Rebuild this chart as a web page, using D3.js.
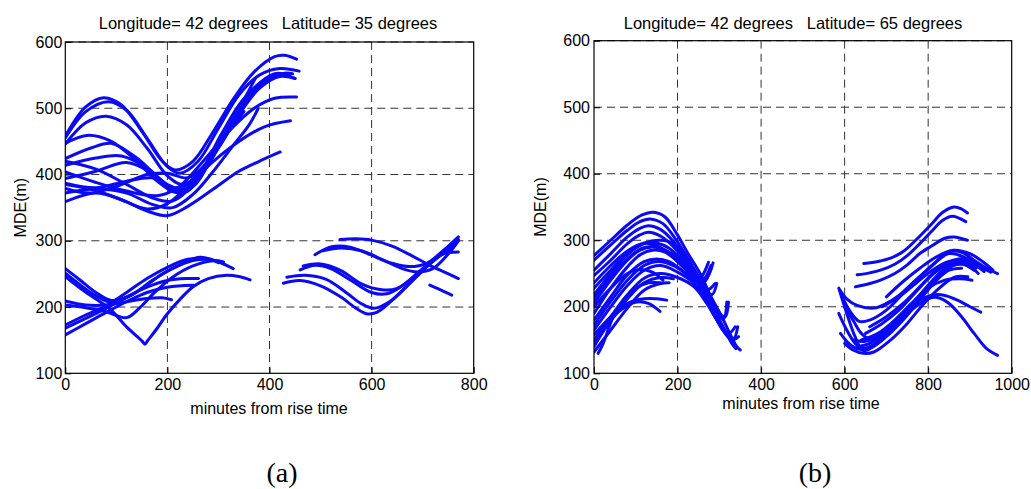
<!DOCTYPE html>
<html>
<head>
<meta charset="utf-8">
<script src="https://cdn.jsdelivr.net/npm/d3@7"></script>
<style>
  body { margin: 0; background: #fff; }
  text { font-family: "Liberation Sans", Arial, sans-serif; fill: #000; }
</style>
</head>
<body>
<div class="graph"></div>
<script>
// tick values
var xTicksA = [0, 200, 400, 600, 800];
var xTicksB = [0, 200, 400, 600, 800, 1000];
var yTicks = [100, 200, 300, 400, 500, 600];

var titleA = 'Longitude= 42 degrees   Latitude= 35 degrees';
var titleB = 'Longitude= 42 degrees   Latitude= 65 degrees';

// panel (a): [minutes, MDE]
var aUpper = [
  [[0,458],[40,502],[75,516],[110,505],[150,465],[190,420],[215,407],[250,420],[290,465],[330,515],[370,555],[410,578],[430,580],[453,574]],
  [[0,455],[40,495],[85,510],[120,497],[160,455],[200,412],[225,402],[260,420],[300,470],[340,520],[380,550],[420,560],[458,556]],
  [[0,446],[40,478],[80,488],[120,475],[160,440],[200,398],[230,385],[265,405],[305,460],[345,510],[385,540],[420,550],[450,545]],
  [[0,447],[42,459],[90,450],[140,420],[180,390],[215,373],[240,375],[275,410],[315,465],[355,515],[395,543],[430,553],[445,552]],
  [[0,424],[50,440],[90,447],[140,425],[190,390],[225,373],[255,385],[290,430],[330,485],[370,530],[410,552],[440,550]],
  [[0,414],[60,425],[110,428],[160,410],[200,385],[230,378],[265,400],[305,450],[345,500],[385,535],[420,550]],
  [[0,394],[60,405],[120,418],[170,402],[210,378],[240,377],[280,415],[320,470],[355,520],[372,545]],
  [[0,387],[60,380],[120,390],[170,395],[215,380],[250,390],[290,430],[330,480],[362,520]],
  [[0,379],[50,372],[110,385],[160,400],[200,402],[240,395],[280,420],[320,465],[350,495]],
  [[0,372],[60,378],[120,372],[170,355],[210,350],[250,370],[290,405],[330,445],[360,475],[378,500]],
  [[0,420],[60,408],[120,385],[170,365],[210,360],[250,385],[300,440],[340,490],[380,530],[420,548],[450,545]],
  [[0,359],[60,372],[110,362],[160,345],[200,338],[240,352],[290,378],[340,405],[380,420],[421,434]],
  [[0,385],[50,378],[100,365],[160,348],[200,356],[240,383],[290,420],[340,450],[390,472],[441,481]],
  [[0,404],[60,388],[120,375],[180,368],[220,380],[270,420],[320,465],[370,500],[410,515],[453,517]]
];

var aLowerLeft = [
  [[0,258],[30,240],[60,222],[90,210],[120,215],[150,228],[190,250],[230,266],[264,275],[300,268],[329,258]],
  [[0,251],[30,233],[60,217],[90,207],[130,218],[170,240],[210,258],[250,270],[280,272],[300,267]],
  [[0,246],[30,228],[60,212],[88,197],[120,170],[150,149],[156,144],[162,150],[180,168],[198,188],[225,212],[251,231],[280,243],[316,248],[340,246],[362,241]],
  [[0,173],[40,188],[80,202],[120,222],[160,243],[200,260],[240,272],[270,273]],
  [[0,168],[40,183],[80,198],[120,215],[160,230],[200,240],[240,243],[261,243]],
  [[0,158],[40,175],[80,192],[120,208],[160,222],[200,230],[251,233]],
  [[0,209],[40,203],[80,203],[120,208],[160,213],[190,214],[208,211]],
  [[0,203],[40,199],[80,193],[120,184],[146,199],[175,222],[210,245],[250,262],[290,270],[310,268]]
];

var aLowerRight = [
  [[538,302],[570,303],[600,301],[640,292],[675,279],[714,263],[745,252],[770,243]],
  [[489,279],[522,291],[560,290],[597,279],[640,266],[675,261],[708,266],[740,285],[770,306]],
  [[505,285],[540,289],[580,285],[620,272],[660,258],[690,253],[720,258],[750,280],[770,300]],
  [[714,233],[735,226],[757,218]],
  [[427,236],[460,240],[500,232],[540,215],[570,198],[590,190],[610,192],[640,210],[680,240],[720,270],[770,302]],
  [[434,245],[470,248],[510,242],[550,222],[580,205],[605,198],[635,208],[670,232],[710,262],[745,285],[765,297]],
  [[460,256],[490,263],[520,258],[560,240],[600,222],[630,220],[660,232],[700,258],[740,280],[770,283]],
  [[466,262],[500,265],[540,255],[580,235],[620,226],[650,228],[690,250],[730,275],[763,293]]
];

// panel (b)
var bLeft = [
  [[0,277],[40,300],[80,323],[115,338],[142,342],[170,335],[198,310],[225,280],[254,250],[280,215],[302,190],[325,160],[342,140],[350,135]],
  [[0,270],[40,293],[80,315],[110,328],[134,332],[165,325],[195,302],[225,272],[254,240],[280,205],[305,175],[330,145],[340,137]],
  [[0,255],[40,280],[80,305],[110,318],[130,322],[160,316],[190,298],[220,270],[250,235],[280,200],[305,168],[330,150],[346,155]],
  [[0,247],[40,270],[80,295],[110,308],[130,312],[160,306],[195,287],[225,262],[255,228],[285,190],[310,165],[334,152],[344,170]],
  [[0,228],[40,255],[80,280],[120,295],[158,300],[190,295],[220,275],[250,245],[275,215],[300,190],[314,185],[322,207]],
  [[0,218],[40,250],[80,278],[118,295],[150,292],[180,280],[210,262],[240,245],[260,240],[280,262]],
  [[0,205],[40,240],[80,270],[110,285],[140,290],[170,285],[200,272],[230,255],[252,242],[274,267]],
  [[0,190],[40,228],[80,260],[110,278],[140,285],[170,282],[200,268],[230,250],[260,230],[282,218],[294,235]],
  [[0,180],[40,215],[80,248],[120,268],[150,272],[180,268],[210,255],[240,240],[262,236],[282,260]],
  [[0,165],[40,200],[80,232],[120,255],[160,262],[200,252],[240,235],[270,210],[295,190],[310,182],[318,207]],
  [[0,150],[40,185],[80,218],[120,243],[160,250],[200,244],[240,230],[270,205],[300,175],[322,160],[338,170]],
  [[0,132],[40,165],[80,198],[120,225],[160,235],[180,236]],
  [[0,140],[30,170],[60,193],[102,207],[130,205],[158,193]],
  [[0,158],[40,185],[80,205],[120,212],[150,212],[174,210]],
  [[0,200],[40,228],[80,250],[110,256],[140,252],[165,240]],
  [[10,130],[22,145],[46,185],[70,210],[100,228],[130,236],[160,236]],
  [[0,236],[40,262],[80,284],[120,296],[150,296],[180,288],[210,270],[240,248],[265,240],[285,266]],
  [[0,212],[40,245],[80,272],[115,288],[150,290],[185,280],[215,262],[245,240],[270,225],[290,235]],
  [[0,172],[40,208],[80,240],[120,262],[155,268],[190,262],[220,250],[250,235],[270,228]],
  [[0,145],[40,180],[80,212],[120,236],[160,244],[190,242]]
];

var bRight = [
  [[646,265],[680,268],[710,273],[740,283],[770,300],[806,323],[835,342],[862,350],[880,347],[894,341]],
  [[630,248],[660,251],[686,255],[720,264],[750,277],[780,295],[806,312],[835,330],[858,336],[890,328]],
  [[626,230],[660,235],[686,240],[720,250],[750,263],[780,280],[810,292],[840,303],[862,305],[894,300]],
  [[588,226],[605,212],[630,202],[670,198],[700,205],[730,217],[770,240],[810,262],[846,282],[880,282],[910,270],[940,258],[966,250]],
  [[590,222],[610,196],[635,178],[660,180],[700,195],[740,220],[780,245],[820,268],[850,280],[885,275],[915,262],[934,253]],
  [[586,228],[605,190],[625,155],[640,138],[660,140],[700,160],[740,188],[780,218],[820,245],[850,262],[880,270],[905,266]],
  [[586,190],[605,165],[625,145],[646,134],[680,145],[720,170],[760,200],[800,232],[840,258],[870,270],[895,268]],
  [[590,160],[610,145],[630,137],[660,138],[700,155],[740,180],[780,210],[820,240],[850,255],[880,258]],
  [[600,145],[620,135],[645,130],[670,132],[710,150],[750,175],[790,205],[830,230],[865,245],[895,245]],
  [[620,150],[650,148],[690,160],[730,180],[770,200],[800,212],[822,214],[850,205],[880,185],[910,160],[940,137],[966,127]],
  [[630,140],[660,145],[700,165],[740,190],[780,210],[815,218],[840,217],[870,210],[900,200],[926,192]],
  [[640,150],[680,160],[720,180],[760,205],[800,228],[840,240],[875,242],[905,240]],
  [[660,170],[700,185],[740,205],[780,230],[820,255],[860,270],[895,272],[926,260],[950,252]],
  [[690,200],[730,215],[770,235],[810,255],[850,268],[885,268],[915,258]],
  [[650,160],[690,175],[730,195],[770,222],[810,248],[850,265],[880,265],[910,255]],
  [[600,200],[620,180],[640,160],[665,150],[700,160],[740,185],[780,215],[820,242],[860,262],[895,262],[920,250]],
  [[700,215],[740,238],[780,258],[820,275],[860,285],[900,280],[930,268],[955,255]]
];

var width = 1031,
    height = 489;

var svg = d3.select('.graph')
  .append('svg')
  .attr('width', width)
  .attr('height', height);

svg.append('rect').attr('width', width).attr('height', height).attr('fill', '#fff');

var panels = [
  { id: 'a', left: 65.3, right: 473.7, top: 42, bottom: 373.3, xMax: 800, xTicks: xTicksA,
    curves: aUpper.concat(aLowerLeft, aLowerRight), title: titleA, titleX: 268,
    yLabelX: 20, xLabelX: 269, xLabelY: 414, tag: '(a)', tagX: 282, yPad: 3 },
  { id: 'b', left: 594, right: 1011.7, top: 40.7, bottom: 373.3, xMax: 1000, xTicks: xTicksB,
    curves: bLeft.concat(bRight), title: titleB, titleX: 793,
    yLabelX: 540, xLabelX: 801, xLabelY: 409, tag: '(b)', tagX: 815, yPad: 4 }
];

panels.forEach(function(p) {
  var x = d3.scaleLinear().domain([0, p.xMax]).range([p.left, p.right]);
  var y = d3.scaleLinear().domain([100, 600]).range([p.bottom, p.top]);
  var g = svg.append('g').attr('id', 'panel-' + p.id);

  g.append('clipPath').attr('id', 'clip-' + p.id)
    .append('rect')
    .attr('x', p.left).attr('y', p.top)
    .attr('width', p.right - p.left).attr('height', p.bottom - p.top);

  // dashed grid
  g.selectAll('.vgrid')
    .data(p.xTicks.slice(1, -1))
    .enter().append('line')
    .attr('x1', d => x(d)).attr('x2', d => x(d))
    .attr('y1', p.top).attr('y2', p.bottom)
    .attr('stroke', '#333').attr('stroke-width', 1)
    .attr('stroke-dasharray', '8,5');
  g.selectAll('.hgrid')
    .data(yTicks.slice(1))
    .enter().append('line')
    .attr('x1', p.left).attr('x2', p.right)
    .attr('y1', d => y(d)).attr('y2', d => y(d))
    .attr('stroke', '#333').attr('stroke-width', 1)
    .attr('stroke-dasharray', '8,5');

  var line = d3.line()
    .x(d => x(d[0]))
    .y(d => y(d[1]))
    .curve(d3.curveCatmullRom.alpha(0.5));

  g.append('g')
    .attr('clip-path', 'url(#clip-' + p.id + ')')
    .selectAll('path')
    .data(p.curves)
    .enter().append('path')
    .attr('d', line)
    .attr('fill', 'none')
    .attr('stroke', '#0a0af5')
    .attr('stroke-width', 3)
    .attr('stroke-linecap', 'round')
    .attr('stroke-linejoin', 'round');

  // axes
  var xAxis = d3.axisBottom(x).tickValues(p.xTicks).tickFormat(d3.format('d'))
    .tickSizeInner(-6).tickSizeOuter(0).tickPadding(5);
  var yAxis = d3.axisLeft(y).tickValues(yTicks).tickFormat(d3.format('d'))
    .tickSizeInner(-6).tickSizeOuter(0).tickPadding(p.yPad);

  var gx = g.append('g').attr('transform', 'translate(0,' + p.bottom + ')').call(xAxis);
  var gy = g.append('g').attr('transform', 'translate(' + p.left + ',0)').call(yAxis);
  [gx, gy].forEach(function(ax) {
    ax.select('.domain').remove();
    ax.selectAll('line').attr('stroke', '#000');
    ax.selectAll('text').attr('font-size', 16).attr('font-family', '"Liberation Sans", Arial, sans-serif');
  });

  g.append('rect')
    .attr('x', p.left).attr('y', p.top)
    .attr('width', p.right - p.left).attr('height', p.bottom - p.top)
    .attr('fill', 'none').attr('stroke', '#000').attr('stroke-width', 1.2);

  g.append('text')
    .attr('x', p.titleX).attr('y', 29)
    .attr('text-anchor', 'middle')
    .attr('font-size', 16.5)
    .style('white-space', 'pre')
    .text(p.title);

  g.append('text')
    .attr('x', p.xLabelX).attr('y', p.xLabelY)
    .attr('text-anchor', 'middle')
    .attr('font-size', 16)
    .text('minutes from rise time');

  g.append('text')
    .attr('transform', 'translate(' + p.yLabelX + ',' + ((p.top + p.bottom) / 2) + ') rotate(-90)')
    .attr('text-anchor', 'middle')
    .attr('dominant-baseline', 'central')
    .attr('font-size', 16)
    .text('MDE(m)');

  g.append('text')
    .attr('x', p.tagX).attr('y', 482)
    .attr('text-anchor', 'middle')
    .attr('font-size', 28)
    .style('font-family', '"Liberation Serif", "Times New Roman", serif')
    .text(p.tag);
});
</script>
</body>
</html>
